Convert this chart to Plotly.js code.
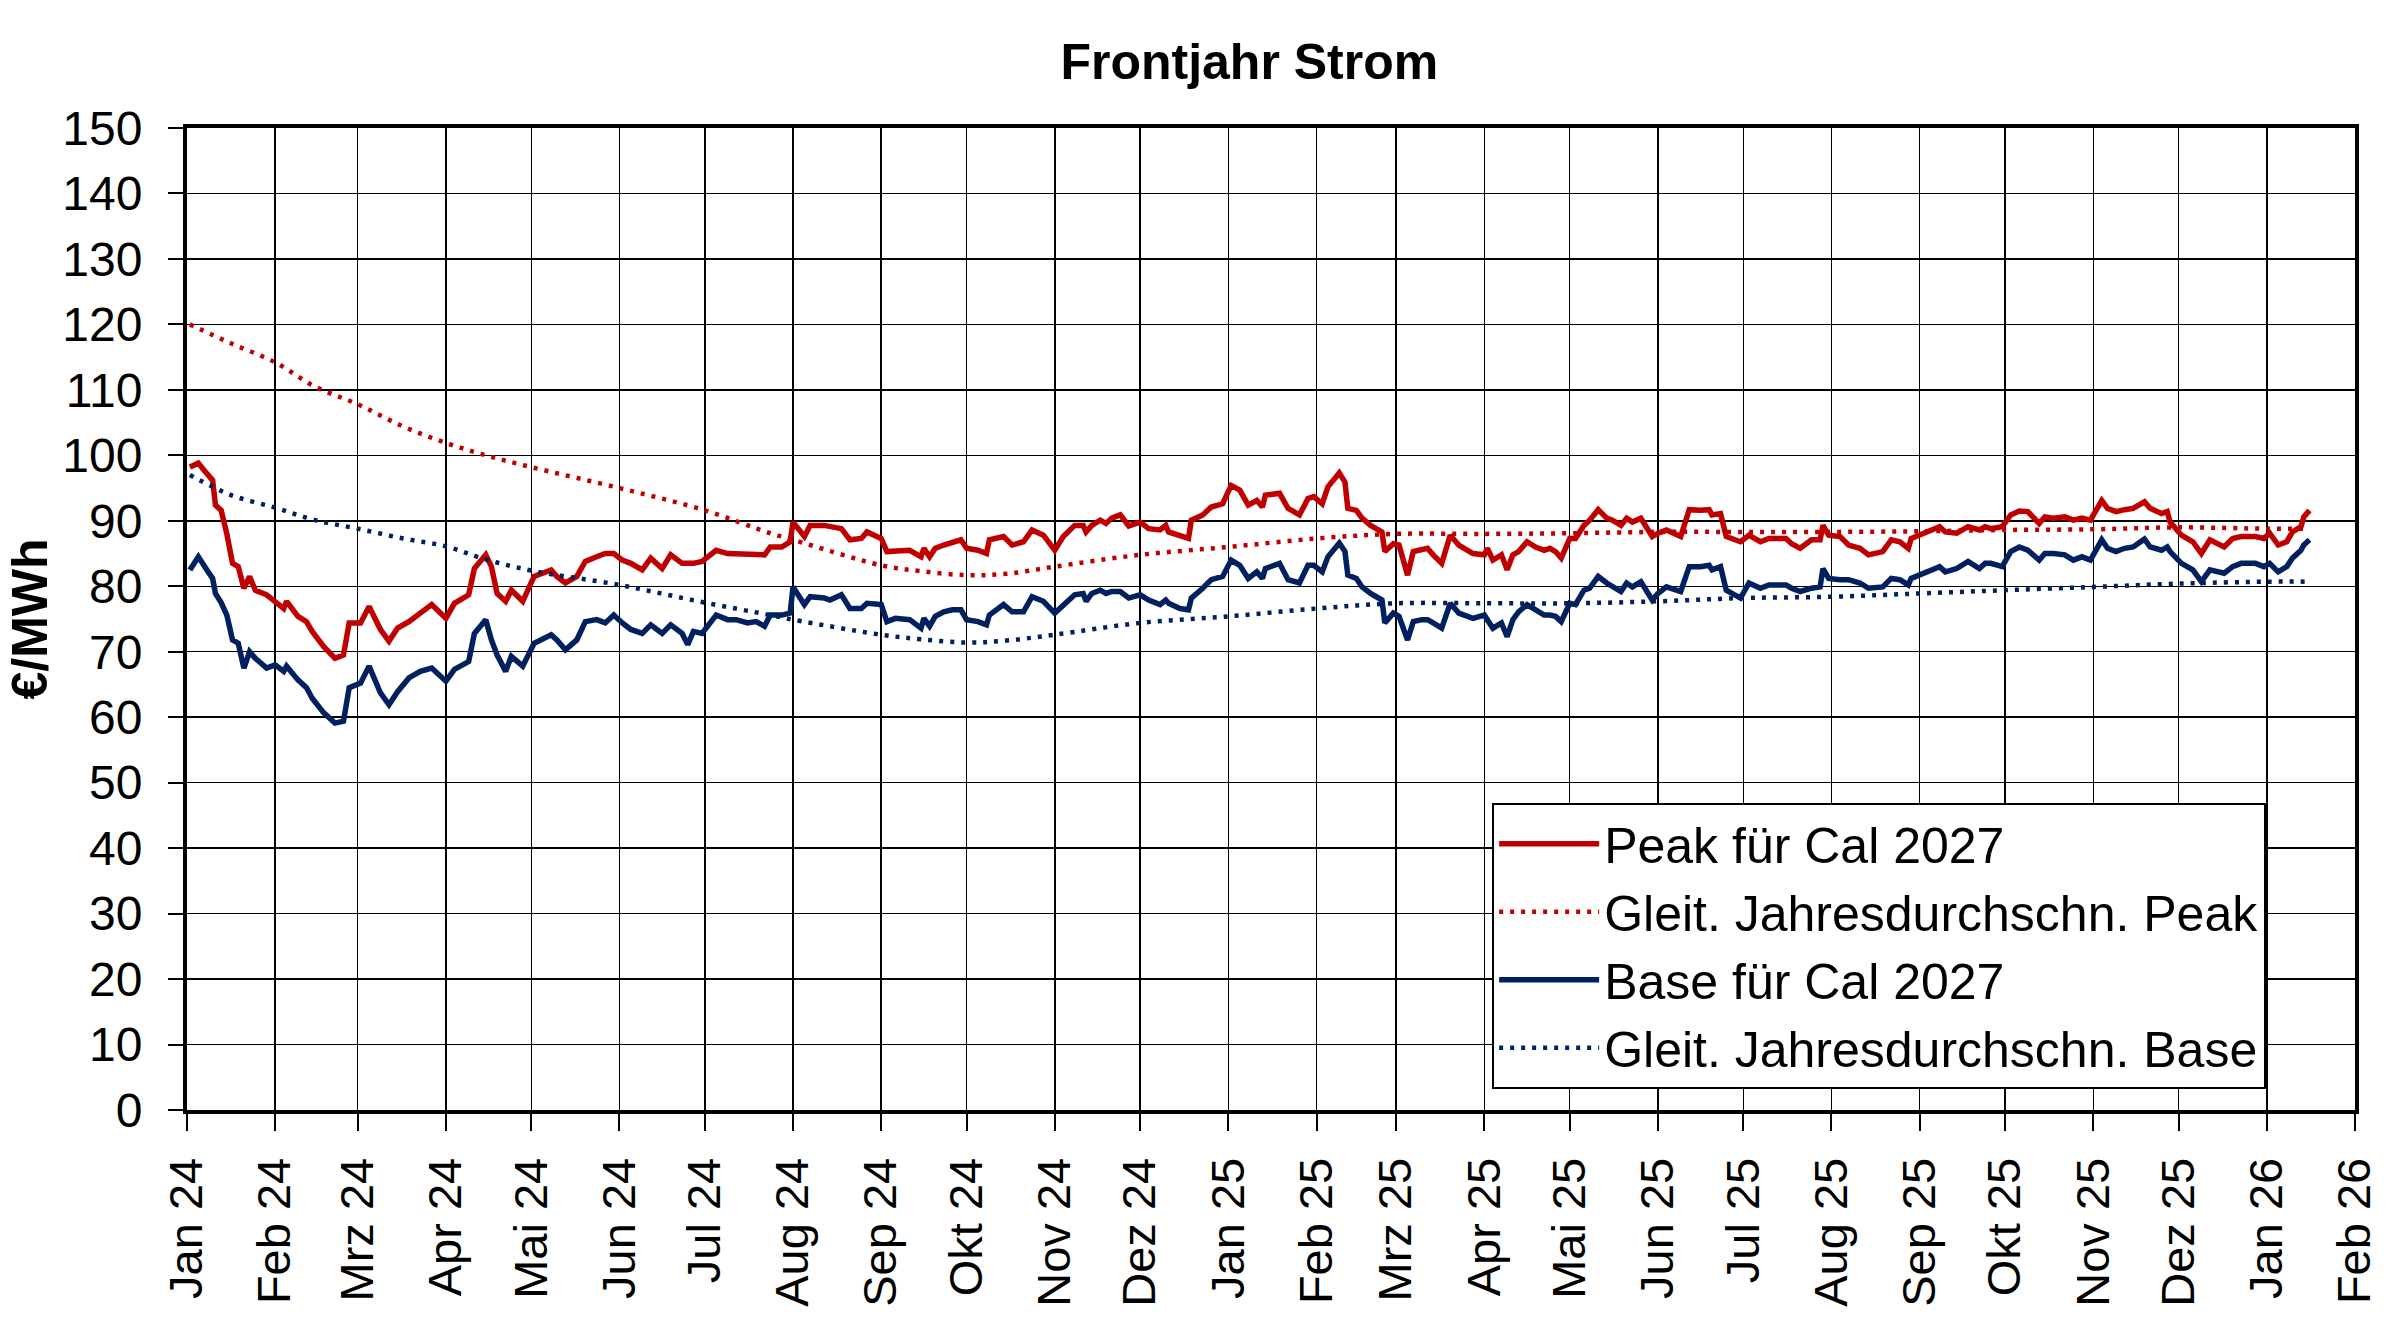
<!DOCTYPE html>
<html>
<head>
<meta charset="utf-8">
<script src="https://cdn.plot.ly/plotly-3.0.1.min.js"></script>
<style>
  html, body { margin: 0; padding: 0; background: #fff; }
  #chart { width: 2400px; height: 1319px; }
</style>
</head>
<body>
<div id="chart"></div>
<script>
// ---------------- Data ----------------
var tradeDates = [
  '2024-01-02','2024-01-05','2024-01-08','2024-01-10','2024-01-11','2024-01-13','2024-01-15','2024-01-17','2024-01-19','2024-01-21',
  '2024-01-23','2024-01-25','2024-01-29','2024-02-01','2024-02-04','2024-02-05','2024-02-09','2024-02-12','2024-02-14','2024-02-18',
  '2024-02-22','2024-02-25','2024-02-27','2024-03-02','2024-03-05','2024-03-09','2024-03-12','2024-03-15','2024-03-19','2024-03-23',
  '2024-03-27','2024-04-01','2024-04-04','2024-04-09','2024-04-11','2024-04-15','2024-04-17','2024-04-19','2024-04-22','2024-04-24',
  '2024-04-28','2024-05-02','2024-05-08','2024-05-10','2024-05-13','2024-05-17','2024-05-20','2024-05-24','2024-05-27','2024-05-30',
  '2024-06-02','2024-06-05','2024-06-09','2024-06-12','2024-06-16','2024-06-19','2024-06-23','2024-06-25','2024-06-27','2024-06-30',
  '2024-07-05','2024-07-09','2024-07-12','2024-07-16','2024-07-19','2024-07-22','2024-07-24','2024-07-28','2024-07-31','2024-08-01',
  '2024-08-05','2024-08-07','2024-08-12','2024-08-14','2024-08-18','2024-08-21','2024-08-25','2024-08-27','2024-09-01','2024-09-03',
  '2024-09-06','2024-09-11','2024-09-15','2024-09-16','2024-09-18','2024-09-20','2024-09-23','2024-09-26','2024-09-29','2024-10-01',
  '2024-10-05','2024-10-08','2024-10-09','2024-10-14','2024-10-17','2024-10-21','2024-10-24','2024-10-28','2024-11-01','2024-11-04',
  '2024-11-08','2024-11-11','2024-11-12','2024-11-14','2024-11-17','2024-11-19','2024-11-21','2024-11-24','2024-11-27','2024-12-01',
  '2024-12-04','2024-12-08','2024-12-10','2024-12-11','2024-12-15','2024-12-18','2024-12-19','2024-12-23','2024-12-26','2024-12-30',
  '2025-01-02','2025-01-05','2025-01-08','2025-01-11','2025-01-13','2025-01-14','2025-01-19','2025-01-22','2025-01-26','2025-01-29',
  '2025-01-31','2025-02-03','2025-02-05','2025-02-09','2025-02-11','2025-02-12','2025-02-15','2025-02-17','2025-02-20','2025-02-24',
  '2025-02-25','2025-02-28','2025-03-02','2025-03-05','2025-03-07','2025-03-10','2025-03-12','2025-03-14','2025-03-17','2025-03-20',
  '2025-03-23','2025-03-28','2025-04-01','2025-04-02','2025-04-04','2025-04-07','2025-04-09','2025-04-11','2025-04-13','2025-04-16',
  '2025-04-19','2025-04-22','2025-04-24','2025-04-26','2025-04-28','2025-05-01','2025-05-03','2025-05-06','2025-05-08','2025-05-11',
  '2025-05-14','2025-05-16','2025-05-19','2025-05-21','2025-05-23','2025-05-26','2025-05-30','2025-06-01','2025-06-04','2025-06-09',
  '2025-06-12','2025-06-16','2025-06-19','2025-06-20','2025-06-23','2025-06-25','2025-06-30','2025-07-03','2025-07-07','2025-07-10',
  '2025-07-16','2025-07-18','2025-07-21','2025-07-25','2025-07-28','2025-07-29','2025-07-31','2025-08-04','2025-08-07','2025-08-11',
  '2025-08-14','2025-08-19','2025-08-22','2025-08-25','2025-08-28','2025-08-29','2025-09-03','2025-09-08','2025-09-10','2025-09-14',
  '2025-09-18','2025-09-22','2025-09-24','2025-09-26','2025-09-30','2025-10-03','2025-10-06','2025-10-09','2025-10-13','2025-10-15',
  '2025-10-18','2025-10-22','2025-10-25','2025-10-28','2025-10-31','2025-11-04','2025-11-06','2025-11-09','2025-11-12','2025-11-15',
  '2025-11-19','2025-11-21','2025-11-25','2025-11-27','2025-11-28','2025-12-02','2025-12-06','2025-12-09','2025-12-12','2025-12-15',
  '2025-12-17','2025-12-20','2025-12-23','2025-12-28','2025-12-31','2026-01-02','2026-01-05','2026-01-08','2026-01-10','2026-01-13',
  '2026-01-14','2026-01-16'
];

var peakCal27 = [
  98.2,98.8,97.2,96.2,92.4,91.6,88.0,83.5,83.0,79.7,
  81.5,79.4,78.7,77.7,76.6,77.7,75.4,74.6,73.1,70.8,
  69.0,69.5,74.4,74.4,76.9,73.4,71.6,73.6,74.6,75.9,
  77.2,75.1,77.4,78.7,82.7,84.8,83.0,78.9,77.7,79.4,
  77.7,81.5,82.5,81.5,80.5,81.5,83.8,84.5,85.0,85.0,
  84.0,83.5,82.5,84.3,82.7,84.8,83.5,83.5,83.5,83.8,
  85.5,85.0,85.0,84.8,84.8,84.8,86.0,86.0,86.8,89.8,
  87.6,89.3,89.3,89.1,88.8,87.1,87.3,88.3,87.3,85.3,
  85.3,85.5,84.5,85.8,84.5,85.8,86.3,86.8,87.1,85.8,
  85.5,85.0,87.1,87.6,86.3,86.8,88.6,87.8,85.5,87.6,
  89.3,89.3,88.3,89.3,90.1,89.6,90.4,90.9,89.2,89.8,
  88.8,88.6,89.3,88.3,87.8,87.3,90.1,90.9,92.1,92.6,
  95.4,94.7,92.4,93.1,92.1,93.9,94.2,91.9,90.9,93.4,
  93.7,92.6,95.2,97.3,95.9,91.9,91.6,90.4,89.3,88.3,
  85.3,86.5,86.3,81.7,85.3,85.5,85.8,84.8,83.5,87.8,
  86.3,85.0,84.8,85.8,84.0,84.8,82.5,84.8,85.3,86.8,
  86.0,85.5,85.8,85.3,84.3,87.3,87.3,89.3,90.1,91.7,
  90.4,90.1,89.3,90.4,89.8,90.4,87.6,88.1,88.6,87.6,
  91.7,91.6,91.7,90.9,91.1,87.6,86.8,87.8,86.8,87.3,
  87.3,86.5,85.8,87.1,87.1,89.3,87.8,87.6,86.3,85.8,
  84.8,85.3,87.1,86.8,85.8,87.3,88.3,89.1,88.3,88.1,
  89.1,88.6,89.1,88.8,89.1,90.9,91.5,91.4,89.6,90.6,
  90.4,90.6,90.1,90.4,90.1,93.1,91.9,91.4,91.7,91.9,
  92.9,91.9,91.1,91.4,89.8,87.8,86.8,85.0,87.1,86.3,
  86.0,87.3,87.6,87.6,87.3,88.1,86.3,86.8,88.3,89.1,
  90.6,91.6
];

var baseCal27 = [
  82.5,84.5,82.5,81.2,78.9,77.5,75.6,71.8,71.3,67.5,
  70.0,69.0,67.5,68.0,67.0,67.8,65.7,64.5,62.9,60.7,
  59.1,59.4,64.5,65.2,67.8,63.7,61.9,63.9,66.0,67.0,
  67.5,65.5,67.3,68.5,72.8,74.9,71.8,69.5,67.0,69.3,
  67.8,71.3,72.6,71.8,70.3,71.8,74.6,74.9,74.4,75.6,
  74.4,73.4,72.8,74.1,72.8,74.1,72.8,71.1,73.1,72.8,
  75.6,74.9,74.9,74.4,74.6,73.9,75.6,75.6,75.9,79.9,
  77.2,78.4,78.2,77.9,78.7,76.6,76.6,77.4,77.2,74.6,
  75.1,74.9,73.6,75.1,73.9,75.4,76.1,76.4,76.4,74.9,
  74.6,74.1,75.6,77.2,76.1,76.1,78.4,77.7,75.9,77.2,
  78.7,78.9,77.7,78.9,79.4,78.9,79.2,79.2,78.2,78.7,
  77.9,77.2,77.9,77.4,76.6,76.4,78.2,79.7,81.0,81.5,
  84.0,83.2,81.2,82.2,81.2,82.7,83.5,81.0,80.5,83.2,
  83.2,82.2,84.5,86.6,85.3,81.7,81.2,79.9,78.9,77.9,
  74.4,75.9,75.4,71.8,74.6,74.9,74.9,74.4,73.6,77.4,
  75.9,75.1,75.6,74.9,73.6,74.4,72.3,74.9,76.1,77.2,
  76.4,75.6,75.6,75.4,74.6,77.4,77.2,79.4,79.7,81.5,
  80.5,79.9,79.2,80.5,79.9,80.7,77.9,78.9,79.9,79.2,
  83.0,83.0,83.2,82.5,83.0,79.4,78.2,80.5,79.7,80.2,
  80.2,79.7,79.2,79.7,79.9,82.7,81.2,81.0,81.0,80.5,
  79.7,79.9,81.2,81.0,80.2,81.2,82.2,83.0,82.2,82.7,
  83.8,82.7,83.5,83.5,83.0,85.3,86.0,85.5,84.0,85.0,
  85.0,84.8,84.0,84.5,84.0,87.1,85.8,85.3,85.8,86.0,
  87.2,86.0,85.5,86.0,85.3,83.5,82.5,80.7,82.5,82.2,
  82.0,83.0,83.5,83.5,83.0,83.5,82.2,83.0,84.3,85.5,
  86.3,87.1
];

// rolling annual averages (dotted lines)
var avgDates = [
  '2024-01-02','2024-01-16','2024-02-01','2024-02-15','2024-03-01','2024-03-17','2024-04-01','2024-04-15','2024-05-01','2024-06-01',
  '2024-07-01','2024-07-24','2024-08-01','2024-09-01','2024-09-15','2024-10-01','2024-10-15','2024-11-01','2024-12-01','2025-01-01',
  '2025-02-01','2025-03-01','2025-04-01','2025-05-01','2025-06-01','2025-07-01','2025-08-01','2025-09-01','2025-10-01','2025-11-01',
  '2025-12-01','2026-01-01','2026-01-16'
];
var peakAvg = [
  120.0,117.2,114.2,110.5,107.8,104.4,101.9,100.0,98.2,95.0,
  91.6,88.1,87.1,83.2,82.3,81.7,81.9,83.0,84.8,86.0,
  87.3,88.0,88.0,88.1,88.3,88.3,88.3,88.4,88.6,88.7,
  89.0,88.8,88.8
];
var baseAvg = [
  97.0,94.0,92.0,90.1,88.8,87.3,86.1,84.1,82.4,80.2,
  77.5,75.6,74.9,72.6,71.9,71.4,71.7,72.6,74.4,75.4,
  76.6,77.4,77.4,77.4,77.7,78.2,78.4,78.9,79.4,79.9,
  80.4,80.7,80.7
];

// month axis
var monthTicks = [
  '2024-01-01','2024-02-01','2024-03-01','2024-04-01','2024-05-01','2024-06-01','2024-07-01','2024-08-01','2024-09-01',
  '2024-10-01','2024-11-01','2024-12-01','2025-01-01','2025-02-01','2025-03-01','2025-04-01','2025-05-01','2025-06-01',
  '2025-07-01','2025-08-01','2025-09-01','2025-10-01','2025-11-01','2025-12-01','2026-01-01','2026-02-01'
];
var monthLabels = [
  'Jan 24','Feb 24','Mrz 24','Apr 24','Mai 24','Jun 24','Jul 24','Aug 24','Sep 24',
  'Okt 24','Nov 24','Dez 24','Jan 25','Feb 25','Mrz 25','Apr 25','Mai 25','Jun 25',
  'Jul 25','Aug 25','Sep 25','Okt 25','Nov 25','Dez 25','Jan 26','Feb 26'
];

/* ---------------- Traces ---------------- */
var RED = '#C00000';
var NAVY = '#002060';
var FONT = 'Arial, "Liberation Sans", sans-serif';

var tracePeak = {
  x: tradeDates, y: peakCal27, type: 'scatter', mode: 'lines',
  name: 'Peak für Cal 2027',
  line: {color: RED, width: 5.5}
};
var tracePeakAvg = {
  x: avgDates, y: peakAvg, type: 'scatter', mode: 'lines',
  name: 'Gleit. Jahresdurchschn. Peak',
  line: {color: RED, width: 4.5, dash: '4px,7px', shape: 'spline'}
};
var traceBase = {
  x: tradeDates, y: baseCal27, type: 'scatter', mode: 'lines',
  name: 'Base für Cal 2027',
  line: {color: NAVY, width: 5.5}
};
var traceBaseAvg = {
  x: avgDates, y: baseAvg, type: 'scatter', mode: 'lines',
  name: 'Gleit. Jahresdurchschn. Base',
  line: {color: NAVY, width: 4.5, dash: '4px,7px', shape: 'spline'}
};

/* ---------------- Layout ---------------- */
var layout = {
  width: 2400,
  height: 1319,
  paper_bgcolor: '#fff',
  plot_bgcolor: '#fff',
  font: {family: FONT, color: '#000', size: 48},
  margin: {l: 187, r: 45, t: 128, b: 209},
  title: {
    text: '<b>Frontjahr Strom</b>',
    font: {family: FONT, size: 50, color: '#000'},
    x: 0.49, xref: 'paper', xanchor: 'center',
    y: 0.953, yref: 'container', yanchor: 'middle'
  },
  xaxis: {
    type: 'date',
    range: ['2024-01-01', '2026-02-01'],
    tickmode: 'array',
    tickvals: monthTicks,
    ticktext: monthLabels,
    tickangle: -90,
    ticks: 'outside', ticklen: 17, tickwidth: 2, tickcolor: '#000',
    ticklabelstandoff: 8,
    tickfont: {family: FONT, size: 47, color: '#000'},
    showgrid: true, gridcolor: '#000', gridwidth: 1.5,
    showline: true, linecolor: '#000', linewidth: 4, mirror: true,
    zeroline: false, fixedrange: true
  },
  yaxis: {
    range: [0, 150],
    dtick: 10,
    ticks: 'outside', ticklen: 15, tickwidth: 2, tickcolor: '#000',
    ticklabelstandoff: 16,
    tickfont: {family: FONT, size: 48, color: '#000'},
    showgrid: true, gridcolor: '#000', gridwidth: 1.5,
    showline: true, linecolor: '#000', linewidth: 4, mirror: true,
    zeroline: false, fixedrange: true,
    title: {text: '<b>€/MWh</b>', font: {family: FONT, size: 50, color: '#000'}, standoff: 0}
  },
  showlegend: true,
  legend: {
    x: 0.602, y: 0.313, xanchor: 'left', yanchor: 'top',
    bgcolor: '#fff', bordercolor: '#000', borderwidth: 2,
    font: {family: FONT, size: 50, color: '#000'},
    itemwidth: 100,
    tracegroupgap: 0
  }
};

Plotly.newPlot('chart', [tracePeak, tracePeakAvg, traceBase, traceBaseAvg], layout,
  {displayModeBar: false, staticPlot: true});
</script>
</body>
</html>
